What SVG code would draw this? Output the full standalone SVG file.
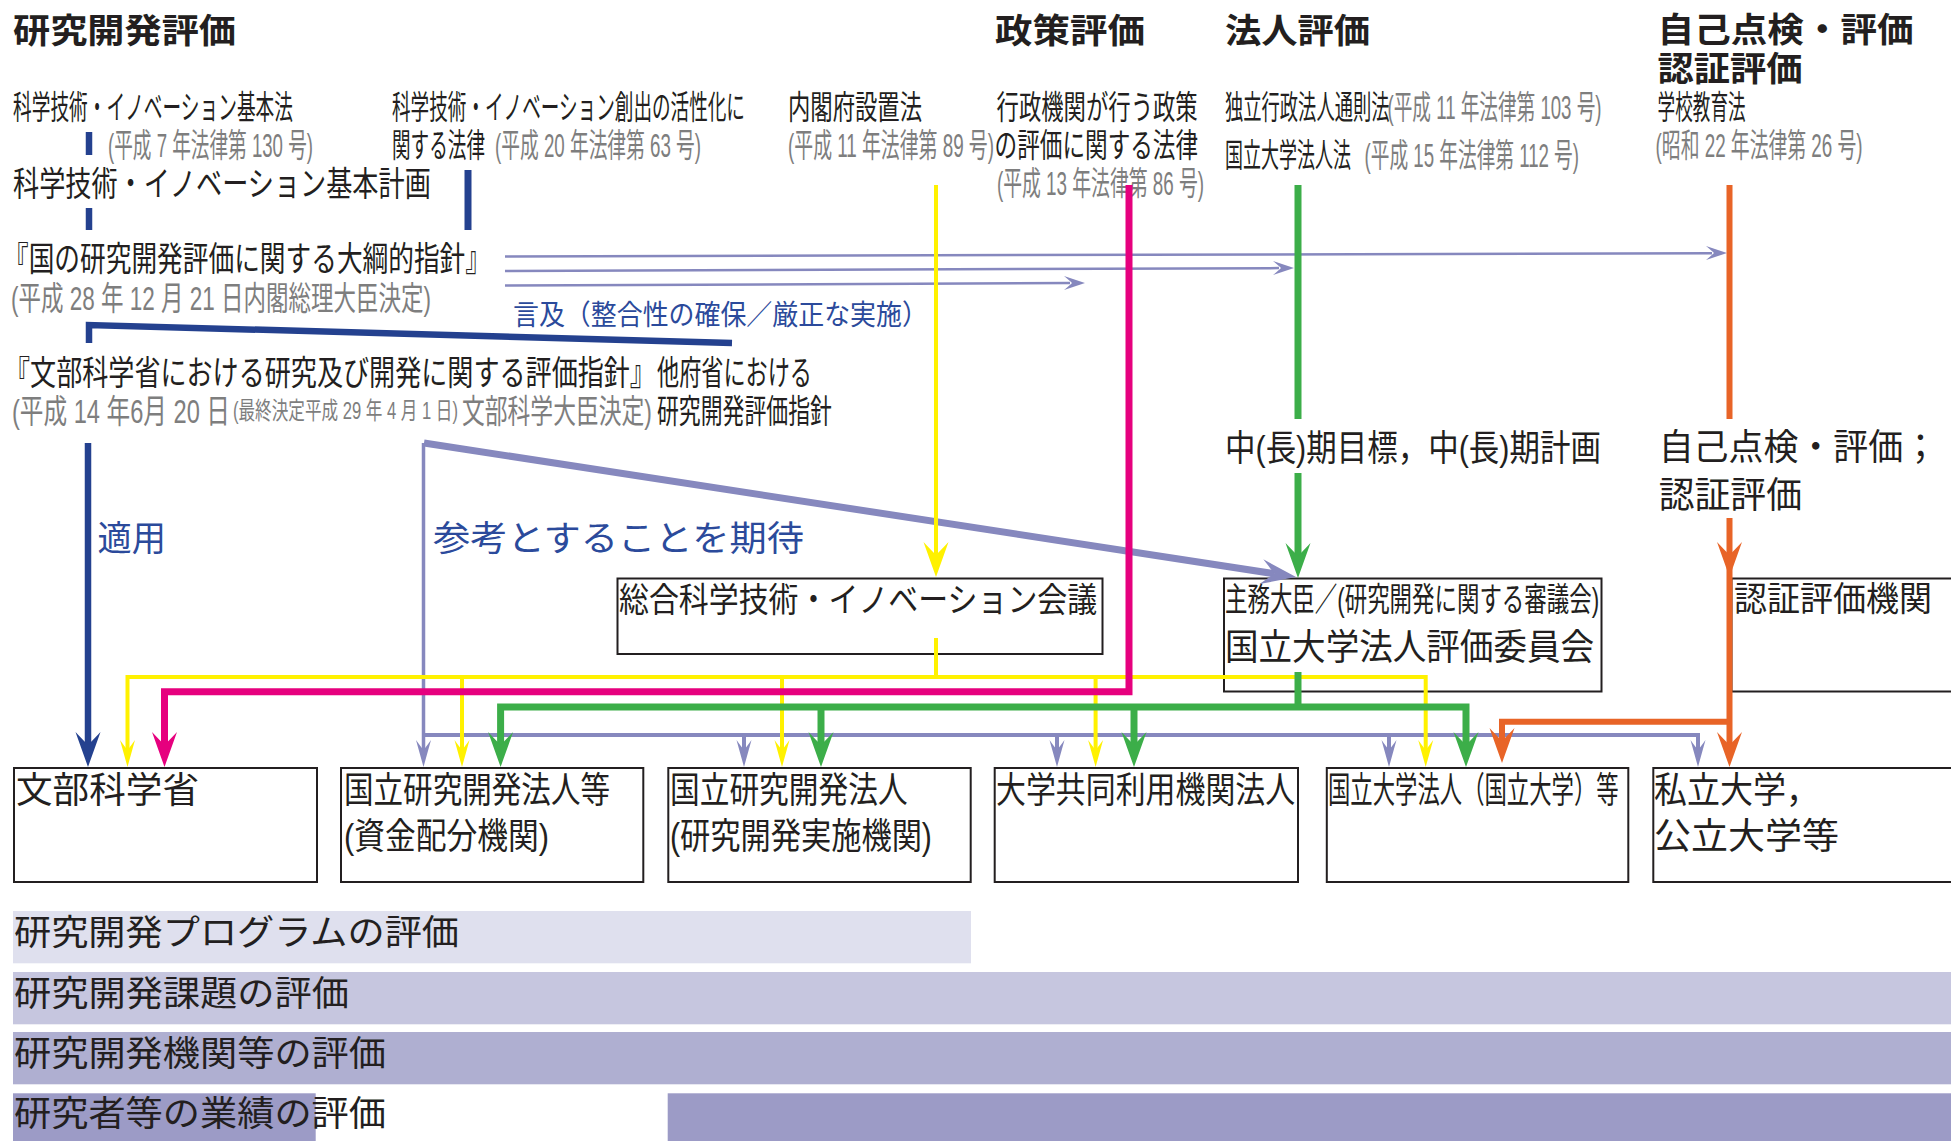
<svg xmlns="http://www.w3.org/2000/svg" xmlns:xlink="http://www.w3.org/1999/xlink" width="1951" height="1141" viewBox="0 0 1951 1141">
<style>
text{font-family:"Liberation Sans","Noto Sans CJK JP","Noto Sans CJK SC",sans-serif;fill:#231f20;}
.h{font-size:34.5px;font-weight:700;}
.m{font-size:34px;}
.s{font-size:33px;}
.l{font-size:36px;}
.g{fill:#7e7e7e;}
.b{fill:#2b4a9b;}
.box{fill:none;stroke:#231f20;stroke-width:2;}
.ln{fill:none;stroke-linejoin:miter;stroke-linecap:butt;}
.navy{stroke:#24418f;}
.yel{stroke:#fff100;}
.mag{stroke:#e6007e;}
.grn{stroke:#3cae49;}
.org{stroke:#e86427;}
.lav{stroke:#8688be;}
</style>
<defs>
<path id="ahL" d="M0,0 L-12.5,-35 Q-4,-26 0,-22 Q4,-26 12.5,-35 Z"/>
<path id="ahS" d="M0,0 L-7.5,-27 Q-2.5,-20 0,-17 Q2.5,-20 7.5,-27 Z"/>
<path id="ahT" d="M0,0 L-7,-21 Q-2,-15 0,-13 Q2,-15 7,-21 Z"/>
</defs>
<rect x="0" y="0" width="1951" height="1141" fill="#ffffff"/>

<!-- bands -->
<g id="bands">
<rect x="13" y="911" width="958" height="52.3" fill="#dfe0ee"/>
<rect x="13" y="972" width="1938" height="52.3" fill="#c6c6df"/>
<rect x="13" y="1032" width="1938" height="52.3" fill="#afafd1"/>
<rect x="13" y="1093.3" width="302.7" height="48" fill="#9c9bc6"/>
<rect x="667.7" y="1093.3" width="1283.3" height="48" fill="#9c9bc6"/>
<text x="14" y="945" font-size="35" textLength="445" lengthAdjust="spacingAndGlyphs">研究開発プログラムの評価</text>
<text x="14" y="1006" font-size="35" textLength="335" lengthAdjust="spacingAndGlyphs">研究開発課題の評価</text>
<text x="14" y="1066" font-size="35" textLength="372" lengthAdjust="spacingAndGlyphs">研究開発機関等の評価</text>
<text x="14" y="1126" font-size="35" textLength="372" lengthAdjust="spacingAndGlyphs">研究者等の業績の評価</text>
</g>

<!-- headers -->
<g id="header-rd">
<text class="h" x="13" y="43" textLength="223" lengthAdjust="spacingAndGlyphs">研究開発評価</text>
</g>
<g id="header-policy">
<text class="h" x="995" y="43" textLength="150" lengthAdjust="spacingAndGlyphs">政策評価</text>
</g>
<g id="header-corp">
<text class="h" x="1225" y="43" textLength="145" lengthAdjust="spacingAndGlyphs">法人評価</text>
</g>
<g id="header-self">
<text class="h" x="1657.6" y="42" textLength="256" lengthAdjust="spacingAndGlyphs">自己点検・評価</text>
<text class="h" x="1657.6" y="81" textLength="145" lengthAdjust="spacingAndGlyphs">認証評価</text>
</g>

<!-- laws -->
<g id="law-sti-basic">
<text class="s" transform="translate(13,119) scale(0.549,1)" textLength="510" lengthAdjust="spacingAndGlyphs">科学技術・イノベーション基本法</text>
<text class="s g" transform="translate(108,157) scale(0.5646,1)" textLength="363.1" lengthAdjust="spacingAndGlyphs">(平成 7 年法律第 130 号)</text>
</g>
<g id="law-sti-act">
<text class="s" transform="translate(392,119) scale(0.5464,1)" textLength="646" lengthAdjust="spacingAndGlyphs">科学技術・イノベーション創出の活性化に</text>
<text class="s" transform="translate(392,157) scale(0.547,1)" textLength="170" lengthAdjust="spacingAndGlyphs">関する法律</text>
<text class="s g" transform="translate(495,157) scale(0.5673,1)" textLength="363.1" lengthAdjust="spacingAndGlyphs">(平成 20 年法律第 63 号)</text>
</g>
<g id="law-cabinet">
<text class="s" transform="translate(788,119) scale(0.657,1)" textLength="204" lengthAdjust="spacingAndGlyphs">内閣府設置法</text>
<text class="s g" transform="translate(788,157) scale(0.5673,1)" textLength="363.1" lengthAdjust="spacingAndGlyphs">(平成 11 年法律第 89 号)</text>
</g>
<g id="law-policy">
<text class="s" transform="translate(996.6,119) scale(0.657,1)" textLength="306" lengthAdjust="spacingAndGlyphs">行政機関が行う政策</text>
<text class="s" transform="translate(994.6,157) scale(0.665,1)" textLength="306" lengthAdjust="spacingAndGlyphs">の評価に関する法律</text>
<text class="s g" transform="translate(997,195) scale(0.570,1)" textLength="363.1" lengthAdjust="spacingAndGlyphs">(平成 13 年法律第 86 号)</text>
</g>
<g id="law-corp">
<text class="s" transform="translate(1225,119) scale(0.5376,1)" textLength="306" lengthAdjust="spacingAndGlyphs">独立行政法人通則法</text>
<text class="s g" transform="translate(1387.5,119) scale(0.5605,1)" textLength="381.8" lengthAdjust="spacingAndGlyphs">(平成 11 年法律第 103 号)</text>
<text class="s" transform="translate(1225,167) scale(0.529,1)" textLength="238" lengthAdjust="spacingAndGlyphs">国立大学法人法</text>
<text class="s g" transform="translate(1364.6,167) scale(0.5616,1)" textLength="381.8" lengthAdjust="spacingAndGlyphs">(平成 15 年法律第 112 号)</text>
</g>
<g id="law-school">
<text class="s" transform="translate(1657.6,119) scale(0.5176,1)" textLength="170" lengthAdjust="spacingAndGlyphs">学校教育法</text>
<text class="s g" transform="translate(1655.6,157) scale(0.570,1)" textLength="363.1" lengthAdjust="spacingAndGlyphs">(昭和 22 年法律第 26 号)</text>
</g>
<g id="plan-basic">
<text class="m" transform="translate(13,196) scale(0.768,1)" textLength="544" lengthAdjust="spacingAndGlyphs">科学技術・イノベーション基本計画</text>
</g>
<g id="guideline-national">
<text class="m" transform="translate(3,271) scale(0.7554,1)" textLength="646" lengthAdjust="spacingAndGlyphs">『国の研究開発評価に関する大綱的指針』</text>
<text class="s g" transform="translate(11,310) scale(0.678,1)" textLength="619.5" lengthAdjust="spacingAndGlyphs">(平成 28 年 12 月 21 日内閣総理大臣決定)</text>
</g>
<g id="label-mention">
<text class="b" transform="translate(513,325) scale(0.926,1)" font-size="28" textLength="448" lengthAdjust="spacingAndGlyphs">言及（整合性の確保／厳正な実施）</text>
</g>
<g id="guideline-mext">
<text class="m" transform="translate(4,385) scale(0.767,1)" textLength="850" lengthAdjust="spacingAndGlyphs">『文部科学省における研究及び開発に関する評価指針』</text>
<text class="s g" transform="translate(12,423) scale(0.718,1)" textLength="303.6" lengthAdjust="spacingAndGlyphs">(平成 14 年6月 20 日</text>
<text class="g" transform="translate(233,419) scale(0.7145,1)" font-size="24" textLength="314.9" lengthAdjust="spacingAndGlyphs">(最終決定平成 29 年 4 月 1 日)</text>
<text class="s g" transform="translate(462,423) scale(0.673,1)" textLength="282.2" lengthAdjust="spacingAndGlyphs">文部科学大臣決定)</text>
</g>
<g id="guideline-other">
<text class="m" transform="translate(657,385) scale(0.651,1)" textLength="238" lengthAdjust="spacingAndGlyphs">他府省における</text>
<text class="s" transform="translate(657,423) scale(0.643,1)" textLength="272" lengthAdjust="spacingAndGlyphs">研究開発評価指針</text>
</g>
<g id="label-apply">
<text class="b" x="97.6" y="551" font-size="35" textLength="68.4" lengthAdjust="spacingAndGlyphs">適用</text>
</g>
<g id="label-expect">
<text class="b" x="433" y="551" font-size="35" textLength="371" lengthAdjust="spacingAndGlyphs">参考とすることを期待</text>
</g>
<g id="label-midterm">
<text class="l" transform="translate(1225,461) scale(0.856,1)" textLength="439.2" lengthAdjust="spacingAndGlyphs">中(長)期目標，中(長)期計画</text>
</g>
<g id="label-selfcheck">
<text class="l" x="1658.7" y="460" textLength="279.3" lengthAdjust="spacingAndGlyphs">自己点検・評価；</text>
<text class="l" x="1658.7" y="508" textLength="143.3" lengthAdjust="spacingAndGlyphs">認証評価</text>
</g>

<!-- middle nodes -->
<g id="node-csti">
<rect class="box" x="617.5" y="578.5" width="485" height="75.5"/>
<text class="m" transform="translate(619,612) scale(0.879,1)" textLength="544" lengthAdjust="spacingAndGlyphs">総合科学技術・イノベーション会議</text>
</g>
<g id="node-committee">
<rect class="box" x="1224" y="578.5" width="377.5" height="113"/>
<text transform="translate(1225,611) scale(0.683,1)" font-size="33" textLength="547.8" lengthAdjust="spacingAndGlyphs">主務大臣／(研究開発に関する審議会)</text>
<text class="l" transform="translate(1225,660) scale(0.932,1)" textLength="396" lengthAdjust="spacingAndGlyphs">国立大学法人評価委員会</text>
</g>
<g id="node-accreditor">
<rect class="box" x="1731.5" y="578.5" width="240" height="113"/>
<text class="m" x="1734" y="611" textLength="198" lengthAdjust="spacingAndGlyphs">認証評価機関</text>
</g>

<!-- bottom nodes -->
<g id="node-mext">
<rect class="box" x="14" y="768" width="303" height="114"/>
<text class="l" x="16" y="803" textLength="183" lengthAdjust="spacingAndGlyphs">文部科学省</text>
</g>
<g id="node-funding">
<rect class="box" x="341" y="768" width="302.3" height="114"/>
<text class="l" transform="translate(344,803) scale(0.821,1)" textLength="324" lengthAdjust="spacingAndGlyphs">国立研究開発法人等</text>
<text class="l" transform="translate(344,849) scale(0.863,1)" textLength="237.6" lengthAdjust="spacingAndGlyphs">(資金配分機関)</text>
</g>
<g id="node-rdinst">
<rect class="box" x="668.3" y="768" width="302.4" height="114"/>
<text class="l" transform="translate(670,803) scale(0.825,1)" textLength="288" lengthAdjust="spacingAndGlyphs">国立研究開発法人</text>
<text class="l" transform="translate(670,849) scale(0.846,1)" textLength="309.6" lengthAdjust="spacingAndGlyphs">(研究開発実施機関)</text>
</g>
<g id="node-iur">
<rect class="box" x="994.7" y="768" width="303.3" height="114"/>
<text class="l" transform="translate(996,803) scale(0.831,1)" textLength="360" lengthAdjust="spacingAndGlyphs">大学共同利用機関法人</text>
</g>
<g id="node-nu">
<rect class="box" x="1326.8" y="768" width="301.5" height="114"/>
<text class="l" transform="translate(1328,803) scale(0.621,1)" textLength="468" lengthAdjust="spacingAndGlyphs">国立大学法人（国立大学）等</text>
</g>
<g id="node-private">
<rect class="box" x="1653.3" y="768" width="320" height="114"/>
<text class="l" transform="translate(1654,803) scale(0.917,1)" textLength="180" lengthAdjust="spacingAndGlyphs">私立大学，</text>
<text class="l" x="1654" y="849" textLength="185" lengthAdjust="spacingAndGlyphs">公立大学等</text>
</g>

<!-- connectors -->
<g id="connectors">
<!-- navy -->
<g class="ln navy" stroke-width="6.5">
<path d="M89,132 V155"/>
<path d="M89,208 V230"/>
<path d="M468,170 V230" stroke-width="7"/>
<path d="M89,343 V325 L732,343"/>
<path d="M88,443 V747"/>
</g>
<use href="#ahL" transform="translate(88,767)" fill="#24418f"/>

<!-- lavender -->
<g class="ln lav">
<path d="M505,256.5 L1712,253.2" stroke-width="2.5"/>
<path d="M505,271 L1279,268.1" stroke-width="2.5"/>
<path d="M505,285.5 L1070,283.1" stroke-width="2.5"/>
<path d="M424,443 L1274.3,573.7" stroke-width="7"/>
<path d="M423.5,443 V752" stroke-width="3.5"/>
<path d="M423.5,735 H1698 V752" stroke-width="4"/>
<path d="M744,735 V752" stroke-width="4"/>
<path d="M1057,735 V752" stroke-width="4"/>
<path d="M1389,735 V752" stroke-width="4"/>
</g>
<g fill="#8688be">
<use href="#ahT" transform="translate(1727,253) rotate(-90)"/>
<use href="#ahT" transform="translate(1294,268) rotate(-90)"/>
<use href="#ahT" transform="translate(1085,283) rotate(-90)"/>
<use href="#ahL" transform="translate(1296,577) rotate(-81.26)"/>
<use href="#ahS" transform="translate(423.5,767)"/>
<use href="#ahS" transform="translate(744,767)"/>
<use href="#ahS" transform="translate(1057,767)"/>
<use href="#ahS" transform="translate(1389,767)"/>
<use href="#ahS" transform="translate(1698,767)"/>
</g>

<!-- yellow -->
<g class="ln yel" stroke-width="4">
<path d="M936,185 V557"/>
<path d="M936,638 V677"/>
<path d="M127.5,752 V677 H1425.7 V752"/>
<path d="M462,677 V752"/>
<path d="M782,677 V752"/>
<path d="M1095.6,677 V752"/>
</g>
<g fill="#fff100">
<use href="#ahL" transform="translate(936,577)"/>
<use href="#ahS" transform="translate(127.5,767)"/>
<use href="#ahS" transform="translate(462,767)"/>
<use href="#ahS" transform="translate(782,767)"/>
<use href="#ahS" transform="translate(1095.6,767)"/>
<use href="#ahS" transform="translate(1425.7,767)"/>
</g>

<!-- magenta -->
<path class="ln mag" stroke-width="7" d="M1129,185 V691.7 H164.5 V747"/>
<use href="#ahL" transform="translate(164.5,767)" fill="#e6007e"/>

<!-- green -->
<g class="ln grn" stroke-width="7">
<path d="M1298,185 V419"/>
<path d="M1298,473 V558"/>
<path d="M1298,672 V707"/>
<path d="M500.6,747 V707 H1466 V747"/>
<path d="M821,707 V747"/>
<path d="M1134,707 V747"/>
</g>
<g fill="#3cae49">
<use href="#ahL" transform="translate(1298,578)"/>
<use href="#ahL" transform="translate(500.6,767)"/>
<use href="#ahL" transform="translate(821,767)"/>
<use href="#ahL" transform="translate(1134,767)"/>
<use href="#ahL" transform="translate(1466,767)"/>
</g>

<!-- orange -->
<g class="ln org" stroke-width="6">
<path d="M1729.5,185 V419"/>
<path d="M1729.5,518 V747"/>
<path d="M1729.5,721.7 H1502 V743"/>
</g>
<g fill="#e86427">
<use href="#ahL" transform="translate(1729.5,577)"/>
<use href="#ahL" transform="translate(1729.5,767)"/>
<use href="#ahL" transform="translate(1502,763)"/>
</g>
</g>
</svg>
